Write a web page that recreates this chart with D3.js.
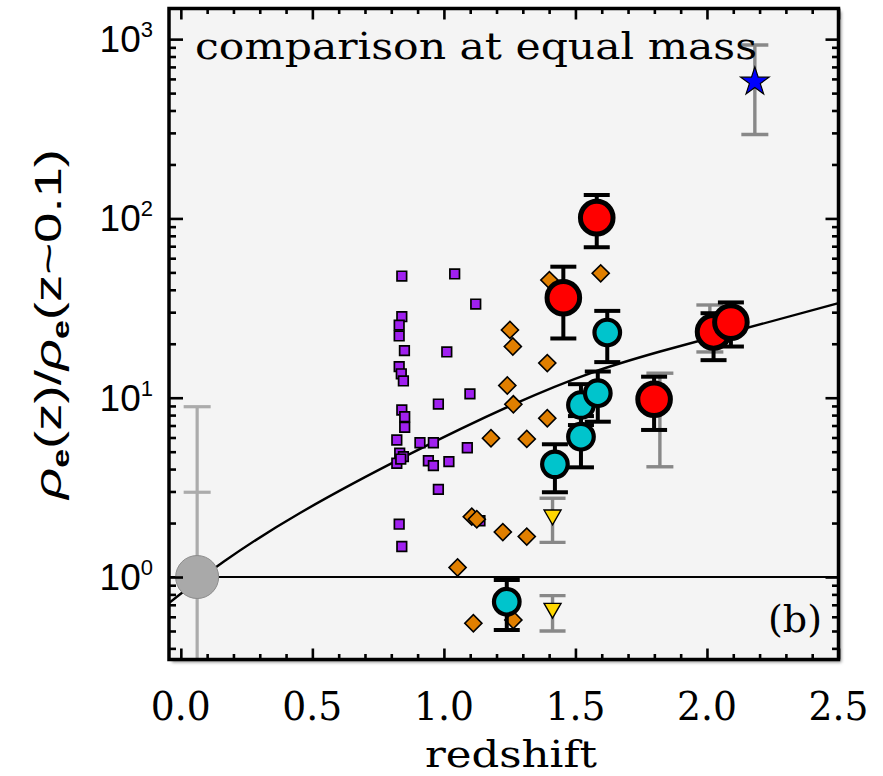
<!DOCTYPE html>
<html><head><meta charset="utf-8">
<script src="https://cdn.jsdelivr.net/npm/d3@7"></script>
<style>
  body { margin: 0; background: #fff; }
  svg { display: block; }
</style>
</head><body>
<svg id="chart" width="883" height="776"></svg>
<script>
// ---- data: [redshift, rho_e(z)/rho_e(z~0.1)] ----
const fieldSquares = [
  [0.840, 47.7], [1.041, 49.0], [1.121, 33.3], [0.840, 28.3], [0.830, 25.4],
  [0.830, 22.1], [0.850, 18.3], [1.011, 18.0], [0.830, 14.9], [0.838, 13.6],
  [0.846, 12.4], [1.099, 10.5], [0.979, 9.22], [0.840, 8.54], [0.851, 7.83],
  [0.851, 6.84], [0.821, 5.81], [0.909, 5.61], [0.960, 5.61], [1.089, 5.26],
  [0.832, 4.90], [0.846, 4.69], [0.821, 4.31], [0.941, 4.45], [0.960, 4.18],
  [1.019, 4.40], [0.979, 3.08], [0.830, 1.97], [0.840, 1.48], [1.137, 2.06],
  [0.836, 4.55]
];
const clusterDiamonds = [
  [1.401, 45.3], [1.596, 49.4], [1.251, 23.9], [1.262, 19.3], [1.393, 15.6],
  [1.241, 11.7], [1.264, 9.19], [1.393, 7.68], [1.179, 5.94], [1.315, 5.89],
  [1.106, 2.17], [1.125, 2.10], [1.224, 1.78], [1.315, 1.68], [1.052, 1.13],
  [1.112, 0.552], [1.264, 0.576]
];
// [z, value, lower, upper]
const cyanPoints = [
  [1.239, 0.728, 0.506, 0.962],
  [1.422, 4.25, 2.97, 5.50],
  [1.521, 6.06, 4.09, 7.9],
  [1.521, 9.10, 7.04, 11.9],
  [1.585, 10.6, 7.35, 14.0],
  [1.621, 23.1, 15.8, 30.5]
];
const redPoints = [
  [1.454, 36.1, 21.4, 53.8],
  [1.581, 101, 69.0, 135],
  [1.799, 9.80, 6.61, 13.1],
  [2.025, 23.3, 16.2, 29.6],
  [2.091, 26.4, 19.3, 34.0]
];
// alternative estimates: [z, lower, upper]
const redAltBars = [
  [1.821, 4.12, 13.7],
  [2.011, 18.0, 32.9]
];
const limitTriangles = [
  [1.413, 2.22, 1.56, 2.75],
  [1.413, 0.669, 0.50, 0.787]
];
const starPoints = [[2.182, 578, 294, 927]];
// local reference: [z, value, lower, upper, inner cap]
const localPoint = [[0.062, 1.0, 0.2, 8.91, 2.97]];
// model track
const modelCurve = [
  [-0.045, 0.716], [0.453, 2.275], [1.264, 9.18], [1.822, 18.1], [2.5, 33.7]
];
const xTickValues = [0, 0.5, 1.0, 1.5, 2.0, 2.5];
const xTickLabels = ["0.0", "0.5", "1.0", "1.5", "2.0", "2.5"];
const yTickValues = [1, 10, 100, 1000];
const yTickExponents = ["0", "1", "2", "3"];

// ---- layout ----
const frame = { left: 169, right: 838.5, top: 8.5, bottom: 659.5 };
const svg = d3.select("#chart");

const x = d3.scaleLinear().domain([-0.045, 2.5]).range([frame.left, frame.right]);
const y = d3.scaleLog().domain([0.3467, 1482]).range([frame.bottom, frame.top]);

const defs = svg.append("defs");
defs.append("clipPath").attr("id", "plotClip")
  .append("rect")
  .attr("x", frame.left).attr("y", frame.top)
  .attr("width", frame.right - frame.left).attr("height", frame.bottom - frame.top);
defs.append("filter").attr("id", "soft")
  .attr("x", "-5%").attr("y", "-5%").attr("width", "110%").attr("height", "110%")
  .append("feGaussianBlur").attr("stdDeviation", 1.6);

// panel shadow and background
svg.append("rect")
  .attr("x", frame.left + 3).attr("y", frame.top + 3)
  .attr("width", frame.right - frame.left).attr("height", frame.bottom - frame.top)
  .attr("fill", "#9a9a9a").attr("filter", "url(#soft)");
svg.append("rect")
  .attr("x", frame.left).attr("y", frame.top)
  .attr("width", frame.right - frame.left).attr("height", frame.bottom - frame.top)
  .attr("fill", "#f4f4f4");

const plot = svg.append("g").attr("clip-path", "url(#plotClip)");

// reference line at unity and the model curve
plot.append("line")
  .attr("x1", frame.left).attr("x2", frame.right)
  .attr("y1", y(1)).attr("y2", y(1))
  .attr("stroke", "#000").attr("stroke-width", 2);
plot.append("path")
  .datum(modelCurve)
  .attr("d", d3.line().x(d => x(d[0])).y(d => y(d[1])).curve(d3.curveNatural))
  .attr("fill", "none").attr("stroke", "#000").attr("stroke-width", 2.4);

// local reference point with its error bar
const capW = 13.5;
localPoint.forEach(d => {
  const g = plot.append("g").attr("stroke", "#ababab").attr("stroke-width", 3.2);
  g.append("line").attr("x1", x(d[0])).attr("x2", x(d[0])).attr("y1", y(d[3])).attr("y2", y(d[2]));
  g.append("line").attr("x1", x(d[0]) - capW).attr("x2", x(d[0]) + capW).attr("y1", y(d[3])).attr("y2", y(d[3]));
  g.append("line").attr("x1", x(d[0]) - capW).attr("x2", x(d[0]) + capW).attr("y1", y(d[4])).attr("y2", y(d[4]));
  plot.append("circle").attr("cx", x(d[0])).attr("cy", y(d[1])).attr("r", 21.5)
    .attr("fill", "#a9a9a9").attr("stroke", "#8c8c8c").attr("stroke-width", 1);
});

// field galaxies
plot.append("g").selectAll("path").data(fieldSquares).join("path")
  .attr("transform", d => `translate(${x(d[0])},${y(d[1])})`)
  .attr("d", d3.symbol(d3.symbolSquare, 92)())
  .attr("fill", "#a020f0").attr("stroke", "#000").attr("stroke-width", 1.7);

// cluster galaxies
plot.append("g").selectAll("path").data(clusterDiamonds).join("path")
  .attr("transform", d => `translate(${x(d[0])},${y(d[1])}) rotate(45)`)
  .attr("d", d3.symbol(d3.symbolSquare, 146)())
  .attr("fill", "#e07f00").attr("stroke", "#000").attr("stroke-width", 1.6);

function errorBar(g, xc, lo, hi, color, width, half) {
  const e = g.append("g").attr("stroke", color).attr("stroke-width", width);
  e.append("line").attr("x1", xc).attr("x2", xc).attr("y1", y(lo)).attr("y2", y(hi));
  e.append("line").attr("x1", xc - half).attr("x2", xc + half).attr("y1", y(lo)).attr("y2", y(lo));
  e.append("line").attr("x1", xc - half).attr("x2", xc + half).attr("y1", y(hi)).attr("y2", y(hi));
}

// upper limits (downward triangles)
limitTriangles.forEach(d => {
  errorBar(plot, x(d[0]), d[2], d[3], "#888", 3.4, 13);
});
plot.append("g").selectAll("path").data(limitTriangles).join("path")
  .attr("transform", d => `translate(${x(d[0])},${y(d[1])}) rotate(180)`)
  .attr("d", d3.symbol(d3.symbolTriangle, 125)())
  .attr("fill", "#ffd700").attr("stroke", "#000").attr("stroke-width", 1.4);

// high-redshift star
starPoints.forEach(d => errorBar(plot, x(d[0]), d[2], d[3], "#888", 3.4, 13.5));
plot.append("g").selectAll("path").data(starPoints).join("path")
  .attr("transform", d => `translate(${x(d[0])},${y(d[1])})`)
  .attr("d", d3.symbol(d3.symbolStar, 252)())
  .attr("fill", "#0000ff").attr("stroke", "#000").attr("stroke-width", 1.2);

// alternative estimates behind the red points
redAltBars.forEach(d => errorBar(plot, x(d[0]), d[1], d[2], "#888", 3.4, 13.5));

// cyan points
cyanPoints.forEach(d => errorBar(plot, x(d[0]), d[2], d[3], "#000", 4, 13));
plot.append("g").selectAll("circle").data(cyanPoints).join("circle")
  .attr("cx", d => x(d[0])).attr("cy", d => y(d[1])).attr("r", 12.8)
  .attr("fill", "#00c4cc").attr("stroke", "#000").attr("stroke-width", 4.2);

// red points
redPoints.forEach(d => errorBar(plot, x(d[0]), d[2], d[3], "#000", 4, 13));
plot.append("g").selectAll("circle").data(redPoints).join("circle")
  .attr("cx", d => x(d[0])).attr("cy", d => y(d[1])).attr("r", 16.3)
  .attr("fill", "#ff0000").attr("stroke", "#000").attr("stroke-width", 5);

// ---- axes: inward ticks on all four sides ----
const xMinor = d3.range(0, 25.01, 1).map(i => i / 10).filter(v => Math.abs(v * 2 - Math.round(v * 2)) > 1e-6);
const yMinor = [];
[0.1, 1, 10, 100, 1000].forEach(dec => {
  for (let k = 2; k <= 9; k++) {
    const v = k * dec;
    if (v > y.domain()[0] && v < y.domain()[1]) yMinor.push(v);
  }
});

function tickSet(axisGen, values, size, transform) {
  const g = svg.append("g").attr("transform", transform)
    .call(axisGen.tickValues(values).tickSize(size).tickFormat(""));
  g.select(".domain").remove();
  g.selectAll(".tick line").attr("stroke", "#000").attr("stroke-width", 2.6);
}
tickSet(d3.axisBottom(x), xTickValues, -11, `translate(0,${frame.bottom})`);
tickSet(d3.axisBottom(x), xMinor, -5.5, `translate(0,${frame.bottom})`);
tickSet(d3.axisTop(x), xTickValues, -11, `translate(0,${frame.top})`);
tickSet(d3.axisTop(x), xMinor, -5.5, `translate(0,${frame.top})`);
tickSet(d3.axisLeft(y), yTickValues, -14, `translate(${frame.left},0)`);
tickSet(d3.axisLeft(y), yMinor, -7, `translate(${frame.left},0)`);
tickSet(d3.axisRight(y), yTickValues, -13, `translate(${frame.right},0)`);
tickSet(d3.axisRight(y), yMinor, -6.5, `translate(${frame.right},0)`);

// frame
svg.append("rect")
  .attr("x", frame.left).attr("y", frame.top)
  .attr("width", frame.right - frame.left).attr("height", frame.bottom - frame.top)
  .attr("fill", "none").attr("stroke", "#000").attr("stroke-width", 3.5);

// x tick labels
svg.append("g").selectAll("text").data(xTickValues).join("text")
  .attr("x", d => x(d)).attr("y", 720)
  .attr("text-anchor", "middle")
  .attr("font-family", "DejaVu Serif").attr("font-size", 39)
  .attr("textLength", 60).attr("lengthAdjust", "spacingAndGlyphs")
  .text((d, i) => xTickLabels[i]);

// y tick labels as powers of ten
const yl = svg.append("g").selectAll("text").data(yTickValues).join("text")
  .attr("x", 153).attr("y", d => y(d) + 13)
  .attr("text-anchor", "end")
  .attr("font-family", "Liberation Sans").attr("font-size", 37);
yl.append("tspan").text("10");
yl.append("tspan").attr("dy", -15).attr("font-size", 22).text((d, i) => yTickExponents[i]);

// axis titles
svg.append("text")
  .attr("x", 511).attr("y", 767)
  .attr("text-anchor", "middle")
  .attr("font-family", "DejaVu Serif").attr("font-size", 37)
  .attr("textLength", 172).attr("lengthAdjust", "spacingAndGlyphs")
  .text("redshift");

const yt = svg.append("text")
  .attr("transform", "translate(61,324) rotate(-90)")
  .attr("text-anchor", "middle")
  .attr("font-family", "Liberation Sans").attr("font-size", 37)
  .attr("textLength", 350).attr("lengthAdjust", "spacingAndGlyphs");
yt.append("tspan").attr("font-style", "italic").text("ρ");
yt.append("tspan").attr("dy", 8).attr("font-size", 23).attr("font-weight", "bold").text("e");
yt.append("tspan").attr("dy", -8).text("(z)/");
yt.append("tspan").attr("font-style", "italic").text("ρ");
yt.append("tspan").attr("dy", 8).attr("font-size", 23).attr("font-weight", "bold").text("e");
yt.append("tspan").attr("dy", -8).text("(z~0.1)");

// panel annotations
svg.append("text")
  .attr("x", 195).attr("y", 59)
  .attr("font-family", "DejaVu Serif").attr("font-size", 38)
  .attr("textLength", 562).attr("lengthAdjust", "spacingAndGlyphs")
  .text("comparison at equal mass");
svg.append("text")
  .attr("x", 822).attr("y", 632)
  .attr("text-anchor", "end")
  .attr("font-family", "DejaVu Serif").attr("font-size", 38)
  .text("(b)");
</script>
</body></html>
